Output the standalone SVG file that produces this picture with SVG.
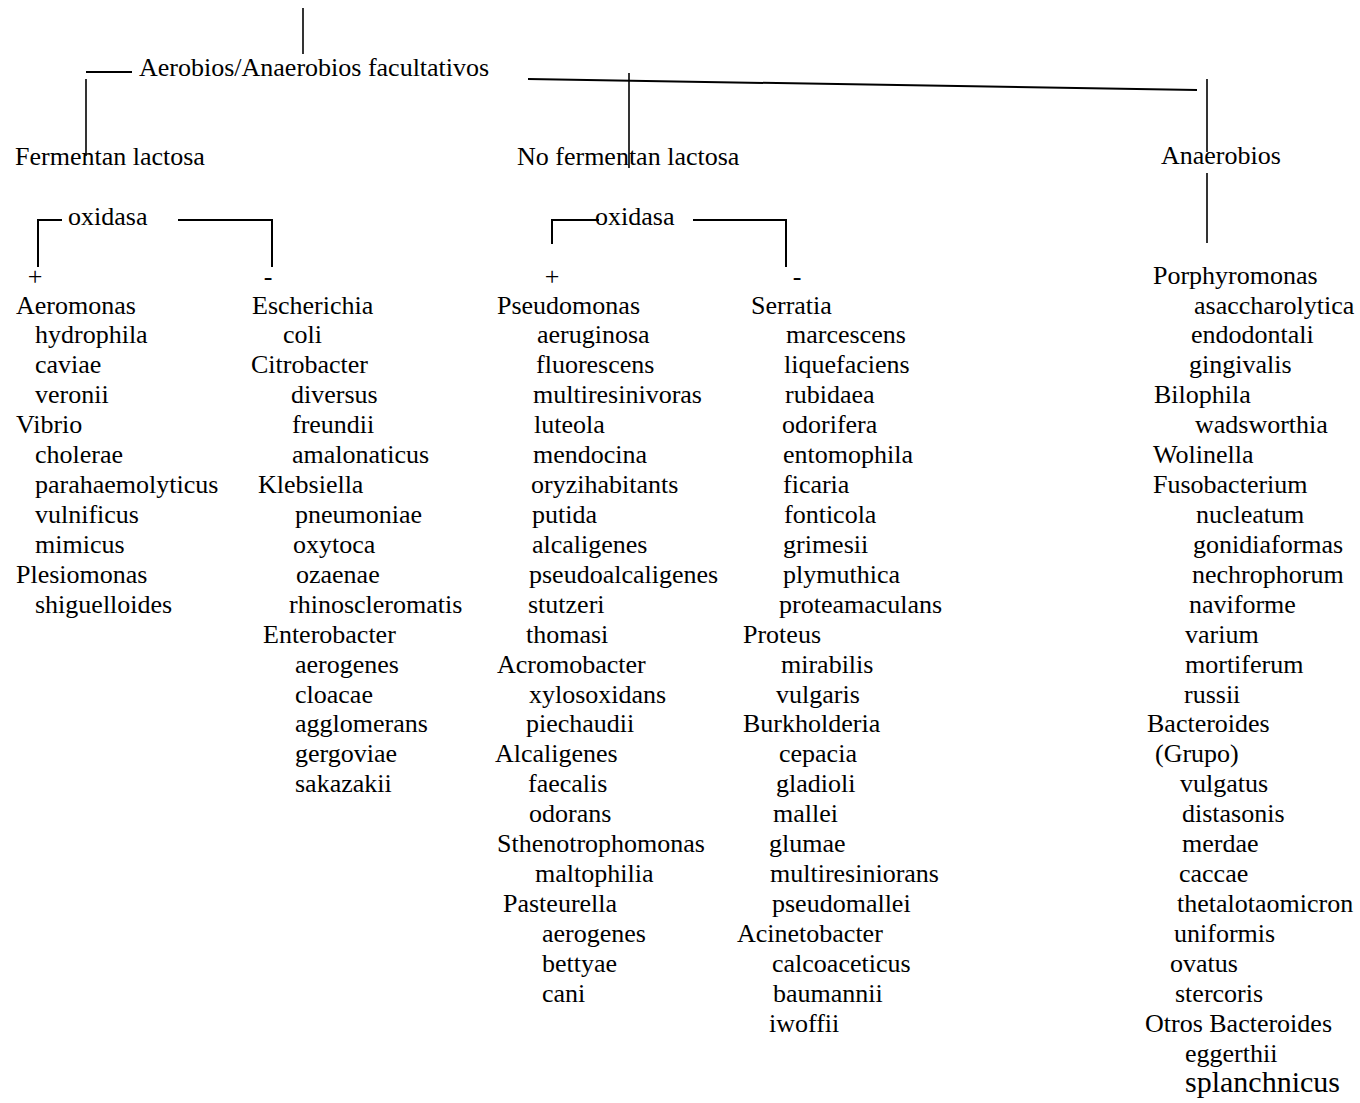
<svg xmlns="http://www.w3.org/2000/svg" width="1360" height="1103" viewBox="0 0 1360 1103">
<style>
text{font-family:'Liberation Serif','Tinos','DejaVu Serif',serif;font-size:26px;fill:#000}
.m{text-anchor:middle}
.big{font-size:30px}
.h{stroke:#000;stroke-width:2;fill:none}
.v{stroke:#000;stroke-width:1.6;fill:none}
</style>
<rect width="1360" height="1103" fill="#fff"/>
<g id="connectors">
<line class="v" x1="303" y1="8" x2="303" y2="54"/>
<line class="h" x1="86" y1="72" x2="132" y2="72"/>
<line class="v" x1="86" y1="79" x2="86" y2="156"/>
<line class="h" x1="528" y1="79" x2="1197" y2="90"/>
<line class="v" x1="629" y1="73" x2="629" y2="168"/>
<line class="v" x1="1207" y1="79" x2="1207" y2="152"/>
<line class="v" x1="1207" y1="173" x2="1207" y2="243"/>
<polyline class="h" points="62,220 38,220 38,267"/>
<polyline class="h" points="178,220 272,220 272,267"/>
<polyline class="h" points="599,220 552,220 552,244"/>
<polyline class="h" points="693,220 786,220 786,267"/>
</g>
<g id="root"><text x="139" y="76">Aerobios/Anaerobios facultativos</text></g>
<g id="fermentan"><text x="15" y="165">Fermentan lactosa</text></g>
<g id="no-fermentan"><text x="517" y="165">No fermentan lactosa</text></g>
<g id="anaerobios"><text x="1161" y="164">Anaerobios</text></g>
<g id="oxidasa-1"><text x="68" y="225">oxidasa</text></g>
<g id="oxidasa-2"><text x="595" y="225">oxidasa</text></g>
<g id="plus-1"><text class="m" x="35" y="285">+</text></g>
<g id="minus-1"><text class="m" x="268" y="285">-</text></g>
<g id="plus-2"><text class="m" x="552" y="285">+</text></g>
<g id="minus-2"><text class="m" x="797" y="285">-</text></g>
<g id="list-ferm-pos">
<text x="16" y="313.5">Aeromonas</text>
<text x="35" y="343.4">hydrophila</text>
<text x="35" y="373.3">caviae</text>
<text x="35" y="403.3">veronii</text>
<text x="16" y="433.2">Vibrio</text>
<text x="35" y="463.1">cholerae</text>
<text x="35" y="493">parahaemolyticus</text>
<text x="35" y="522.9">vulnificus</text>
<text x="35" y="552.9">mimicus</text>
<text x="16" y="582.8">Plesiomonas</text>
<text x="35" y="612.7">shiguelloides</text>
</g>
<g id="list-ferm-neg">
<text x="252" y="313.5">Escherichia</text>
<text x="283" y="343.4">coli</text>
<text x="251" y="373.3">Citrobacter</text>
<text x="291" y="403.3">diversus</text>
<text x="292" y="433.2">freundii</text>
<text x="292" y="463.1">amalonaticus</text>
<text x="258" y="493">Klebsiella</text>
<text x="295" y="522.9">pneumoniae</text>
<text x="293" y="552.9">oxytoca</text>
<text x="296" y="582.8">ozaenae</text>
<text x="289" y="612.7">rhinoscleromatis</text>
<text x="263" y="642.6">Enterobacter</text>
<text x="295" y="672.5">aerogenes</text>
<text x="295" y="702.5">cloacae</text>
<text x="295" y="732.4">agglomerans</text>
<text x="295" y="762.3">gergoviae</text>
<text x="295" y="792.2">sakazakii</text>
</g>
<g id="list-noferm-pos">
<text x="497" y="313.5">Pseudomonas</text>
<text x="537" y="343.4">aeruginosa</text>
<text x="536" y="373.3">fluorescens</text>
<text x="533" y="403.3">multiresinivoras</text>
<text x="534" y="433.2">luteola</text>
<text x="533" y="463.1">mendocina</text>
<text x="531" y="493">oryzihabitants</text>
<text x="532" y="522.9">putida</text>
<text x="532" y="552.9">alcaligenes</text>
<text x="529" y="582.8">pseudoalcaligenes</text>
<text x="528" y="612.7">stutzeri</text>
<text x="526" y="642.6">thomasi</text>
<text x="497" y="672.5">Acromobacter</text>
<text x="529" y="702.5">xylosoxidans</text>
<text x="526" y="732.4">piechaudii</text>
<text x="495" y="762.3">Alcaligenes</text>
<text x="528" y="792.2">faecalis</text>
<text x="529" y="822.1">odorans</text>
<text x="497" y="852.1">Sthenotrophomonas</text>
<text x="535" y="882">maltophilia</text>
<text x="503" y="911.9">Pasteurella</text>
<text x="542" y="941.8">aerogenes</text>
<text x="542" y="971.7">bettyae</text>
<text x="542" y="1001.7">cani</text>
</g>
<g id="list-noferm-neg">
<text x="751" y="313.5">Serratia</text>
<text x="786" y="343.4">marcescens</text>
<text x="784" y="373.3">liquefaciens</text>
<text x="785" y="403.3">rubidaea</text>
<text x="782" y="433.2">odorifera</text>
<text x="783" y="463.1">entomophila</text>
<text x="783" y="493">ficaria</text>
<text x="784" y="522.9">fonticola</text>
<text x="783" y="552.9">grimesii</text>
<text x="783" y="582.8">plymuthica</text>
<text x="779" y="612.7">proteamaculans</text>
<text x="743" y="642.6">Proteus</text>
<text x="781" y="672.5">mirabilis</text>
<text x="776" y="702.5">vulgaris</text>
<text x="743" y="732.4">Burkholderia</text>
<text x="779" y="762.3">cepacia</text>
<text x="776" y="792.2">gladioli</text>
<text x="773" y="822.1">mallei</text>
<text x="769" y="852.1">glumae</text>
<text x="770" y="882">multiresiniorans</text>
<text x="772" y="911.9">pseudomallei</text>
<text x="737" y="941.8">Acinetobacter</text>
<text x="772" y="971.7">calcoaceticus</text>
<text x="773" y="1001.7">baumannii</text>
<text x="769" y="1031.6">iwoffii</text>
</g>
<g id="list-anaerobios">
<text x="1153" y="283.6">Porphyromonas</text>
<text x="1194" y="313.5">asaccharolytica</text>
<text x="1191" y="343.4">endodontali</text>
<text x="1189" y="373.3">gingivalis</text>
<text x="1154" y="403.3">Bilophila</text>
<text x="1195" y="433.2">wadsworthia</text>
<text x="1153" y="463.1">Wolinella</text>
<text x="1153" y="493">Fusobacterium</text>
<text x="1196" y="522.9">nucleatum</text>
<text x="1193" y="552.9">gonidiaformas</text>
<text x="1192" y="582.8">nechrophorum</text>
<text x="1189" y="612.7">naviforme</text>
<text x="1185" y="642.6">varium</text>
<text x="1185" y="672.5">mortiferum</text>
<text x="1184" y="702.5">russii</text>
<text x="1147" y="732.4">Bacteroides</text>
<text x="1155" y="762.3">(Grupo)</text>
<text x="1180" y="792.2">vulgatus</text>
<text x="1182" y="822.1">distasonis</text>
<text x="1182" y="852.1">merdae</text>
<text x="1179" y="882">caccae</text>
<text x="1177" y="911.9">thetalotaomicron</text>
<text x="1174" y="941.8">uniformis</text>
<text x="1170" y="971.7">ovatus</text>
<text x="1175" y="1001.7">stercoris</text>
<text x="1145" y="1031.6">Otros Bacteroides</text>
<text x="1185" y="1061.5">eggerthii</text>
<text class="big" x="1185" y="1092">splanchnicus</text>
</g>
</svg>
